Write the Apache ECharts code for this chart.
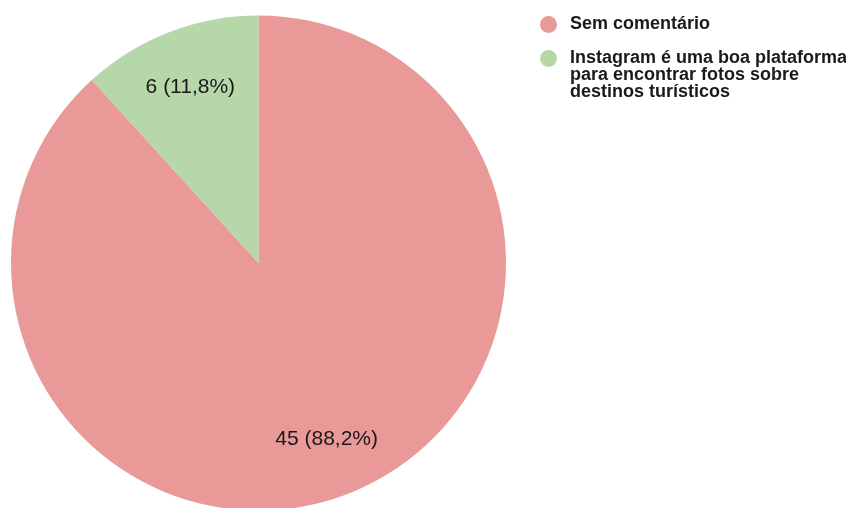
<!DOCTYPE html>
<html>
<head>
<meta charset="utf-8">
<script src="https://cdn.jsdelivr.net/npm/echarts@6/dist/echarts.min.js"></script>
<style>
  html, body { margin: 0; padding: 0; background: #fff; }
  #chart { width: 846px; height: 508px; }
</style>
</head>
<body>
<div id="chart"></div>
<script>
// Survey answers and their counts
const categories = [
  'Sem comentário',
  'Instagram é uma boa plataforma para encontrar fotos sobre destinos turísticos'
];
const counts = [45, 6];
const sliceColors = ['#EA9999', '#B6D7A8'];
// Legend text, broken into lines
const legendLines = [
  ['Sem comentário'],
  ['Instagram é uma boa plataforma', 'para encontrar fotos sobre', 'destinos turísticos']
];

const FONT = '"Liberation Sans", Arial, Helvetica, sans-serif';
const CENTER = [258.5, 263];
const RADIUS = 247.5;
const LINE_H = 17;
const ICON = 17;

const pieData = categories.map((name, i) => ({
  name,
  value: counts[i],
  itemStyle: { color: sliceColors[i] }
}));

const labelData = categories.map((name, i) => ({ name, value: counts[i] }));

// One legend per entry; the text block is centred on the icon, so blank
// lines are prepended to keep the icon beside the first line.
function legendFor(i, iconCenterY) {
  const lines = legendLines[i];
  const blanks = new Array(lines.length - 1).fill('');
  const allLines = blanks.concat(lines);
  return {
    orient: 'vertical',
    left: 540,
    top: iconCenterY - (allLines.length * LINE_H) / 2,
    padding: 0,
    icon: 'circle',
    itemWidth: ICON,
    itemHeight: ICON,
    selectedMode: false,
    data: [{ name: categories[i], itemStyle: { color: sliceColors[i] } }],
    formatter: () => allLines.join('\n'),
    textStyle: {
      fontFamily: FONT,
      fontSize: 18,
      fontWeight: 'bold',
      color: '#1a1a1a',
      lineHeight: LINE_H,
      padding: [0, 0, 0, 8]
    }
  };
}

const chart = echarts.init(document.getElementById('chart'), null, { renderer: 'canvas' });
chart.setOption({
  animation: false,
  backgroundColor: '#ffffff',
  legend: [legendFor(0, 24), legendFor(1, 58)],
  series: [
    {
      type: 'pie',
      center: CENTER,
      radius: RADIUS,
      startAngle: 90,
      clockwise: true,
      label: { show: false },
      labelLine: { show: false },
      emphasis: { disabled: true },
      itemStyle: { borderWidth: 0 },
      data: pieData
    },
    {
      // transparent ring that carries the value labels at 3/4 radius
      type: 'pie',
      center: CENTER,
      radius: [RADIUS / 2, RADIUS],
      startAngle: 90,
      clockwise: true,
      silent: true,
      emphasis: { disabled: true },
      itemStyle: { color: 'rgba(0,0,0,0)', borderWidth: 0 },
      labelLine: { show: false },
      label: {
        show: true,
        position: 'inside',
        fontFamily: FONT,
        fontSize: 21,
        color: '#1a1a1a',
        formatter: p => p.value + ' (' + p.percent.toFixed(1).replace('.', ',') + '%)'
      },
      data: labelData
    }
  ]
});
</script>
</body>
</html>
